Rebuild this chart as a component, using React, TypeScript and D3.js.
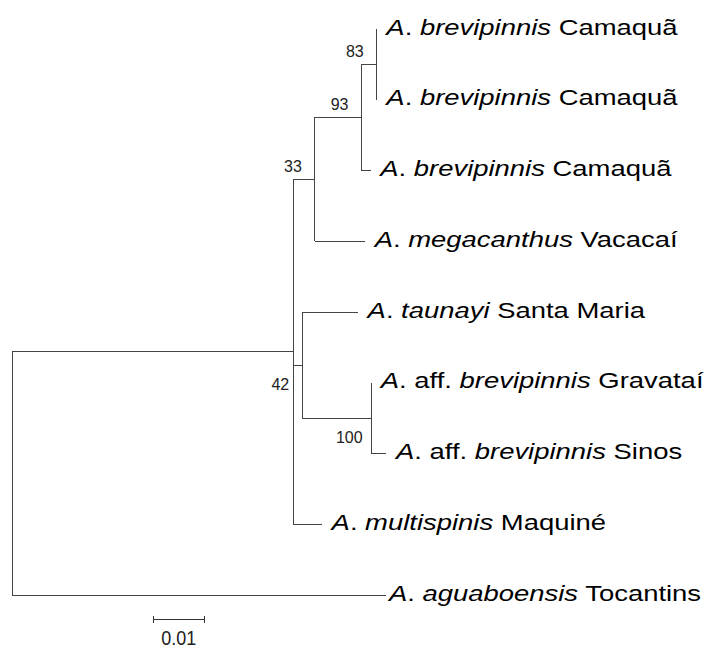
import { useEffect, useRef } from 'react';
import * as d3 from 'd3';

// tree table: node id, parent id, branch length (substitutions/site), bootstrap
const nodeIds = ['root', 'ingroup', 'c33', 'c93', 'c83', 't1', 't2', 't3', 'mega', 'c42', 'tau', 'c100', 'grav', 'sinos', 'multi', 'agua'];
const parentIds = ['', 'root', 'ingroup', 'c33', 'c93', 'c83', 'c83', 'c93', 'c33', 'ingroup', 'c42', 'c42', 'c100', 'c100', 'ingroup', 'root'];
const branchLengths = [0, 0.0554, 0.0043, 0.0092, 0.003, 0, 0, 0.0018, 0.0099, 0.0018, 0.011, 0.0136, 0, 0.003, 0.0057, 0.0738];
const supports = [null, null, 33, 93, 83, null, null, null, null, 42, null, 100, null, null, null, null];

// tip labels, in tip order
const tipIds = ['t1', 't2', 't3', 'mega', 'tau', 'grav', 'sinos', 'multi', 'agua'];
const tipQualifier = ['', '', '', '', '', 'aff. ', 'aff. ', '', ''];
const tipSpecies = ['brevipinnis', 'brevipinnis', 'brevipinnis', 'megacanthus', 'taunayi', 'brevipinnis', 'brevipinnis', 'multispinis', 'aguaboensis'];
const tipLocality = ['Camaquã', 'Camaquã', 'Camaquã', 'Vacacaí', 'Santa Maria', 'Gravataí', 'Sinos', 'Maquiné', 'Tocantins'];

const scaleBarValue = 0.01;
const scaleBarLabel = '0.01';

const [width, height] = [716, 650];

function App() {
    const node = useRef<SVGSVGElement>(null);

    useEffect(() => {
        if (!node.current) return;
        const svg = d3.select(node.current);
        svg.selectAll('*').remove();

        const rows = nodeIds.map((id, i) => ({ id, parent: parentIds[i] || null, len: branchLengths[i], support: supports[i] }));
        const root = d3.stratify<any>().id(d => d.id).parentId(d => d.parent)(rows);

        /** cumulative distance from root */
        const dist = new Map<string, number>();
        root.each((n: any) => {
            dist.set(n.id, n.parent ? dist.get(n.parent.id)! + n.data.len : 0);
        });

        const xScale = d3.scaleLinear().domain([0, scaleBarValue]).range([12.3, 12.3 + 50.7]);
        const yScale = d3.scalePoint<string>().domain(tipIds).range([29, 595]);

        const pos = new Map<string, { x: number; y: number }>();
        root.eachAfter((n: any) => {
            let y;
            if (!n.children) y = yScale(n.id)!;
            else {
                const ys = n.children.map((c: any) => pos.get(c.id)!.y);
                y = (ys[0] + ys[ys.length - 1]) / 2;
            }
            pos.set(n.id, { x: xScale(dist.get(n.id)!), y });
        });

        const lines = svg.append('g')
            .attr('fill', 'none')
            .attr('stroke', '#444')
            .attr('stroke-width', 1)
            .attr('shape-rendering', 'crispEdges');

        /** horizontal branches */
        root.descendants().filter((n: any) => n.parent).forEach((n: any) => {
            const p = pos.get(n.parent.id)!, c = pos.get(n.id)!;
            lines.append('line')
                .attr('x1', p.x).attr('x2', c.x)
                .attr('y1', c.y).attr('y2', c.y);
        });

        /** vertical connectors */
        root.descendants().filter((n: any) => n.children).forEach((n: any) => {
            const p = pos.get(n.id)!;
            const ys = n.children.map((c: any) => pos.get(c.id)!.y);
            lines.append('line')
                .attr('x1', p.x).attr('x2', p.x)
                .attr('y1', d3.min(ys)).attr('y2', d3.max(ys));
        });

        /** bootstrap values */
        root.descendants().filter((n: any) => n.data.support != null).forEach((n: any) => {
            const p = pos.get(n.id)!;
            const first = n.parent && n.parent.children[0] === n;
            svg.append('text')
                .attr('x', p.x - 22)
                .attr('y', first ? p.y - 7 : p.y + 25)
                .attr('text-anchor', 'middle')
                .attr('font-family', '"Liberation Sans", Arial, sans-serif')
                .attr('font-size', 16)
                .attr('fill', '#222')
                .text(n.data.support);
        });

        /** tip labels */
        tipIds.forEach((id, i) => {
            const p = pos.get(id)!;
            const gap = id === 'agua' ? 2.5 : 9.5;
            const t = svg.append('text')
                .attr('transform', `translate(${p.x + gap},${p.y + 5.5}) scale(1.22,1)`)
                .attr('font-family', '"Liberation Sans", Arial, sans-serif')
                .attr('font-size', 22.5)
                .attr('fill', '#000');
            t.append('tspan').attr('font-style', 'italic').text('A');
            t.append('tspan').text('. ' + tipQualifier[i]);
            t.append('tspan').attr('font-style', 'italic').text(tipSpecies[i]);
            t.append('tspan').text(' ' + tipLocality[i]);
        });

        /** scale bar */
        const sx0 = xScale(0) + 141, sx1 = xScale(scaleBarValue) + 141, sy = 619;
        const bar = svg.append('g').attr('stroke', '#333').attr('shape-rendering', 'crispEdges');
        bar.append('line').attr('x1', sx0).attr('x2', sx1).attr('y1', sy).attr('y2', sy);
        bar.append('line').attr('x1', sx0).attr('x2', sx0).attr('y1', sy - 3).attr('y2', sy + 4);
        bar.append('line').attr('x1', sx1).attr('x2', sx1).attr('y1', sy - 3).attr('y2', sy + 4);
        svg.append('text')
            .attr('transform', `translate(${(sx0 + sx1) / 2},645) scale(0.9,1)`)
            .attr('text-anchor', 'middle')
            .attr('font-family', '"Liberation Sans", Arial, sans-serif')
            .attr('font-size', 20)
            .attr('fill', '#222')
            .text(scaleBarLabel);
    }, [node]);

    return (
        <svg ref={node} width={width} height={height}
            style={{ position: 'absolute', left: 0, top: 0, background: '#fff' }} />
    );
}

export default App;
